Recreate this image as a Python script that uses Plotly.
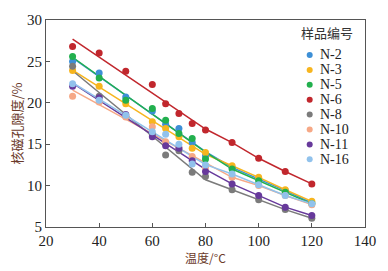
import numpy as np
import plotly.graph_objects as go

temps = [30, 40, 50, 60, 65, 70, 75, 80, 90, 100, 110, 120]
names = ["N-2", "N-3", "N-5", "N-6", "N-8", "N-10", "N-11", "N-16"]
n2 = [25.0, 23.6, 20.7, 19.0, 17.4, 16.9, 15.2, 13.6, 12.2, 10.8, 9.4, 7.9]
n3 = [23.9, 22.0, 19.9, 17.7, 16.9, 15.9, 14.5, 14.0, 12.4, 11.0, 9.5, 8.1]
n5 = [25.6, 23.0, 20.3, 19.3, 17.9, 16.3, 15.7, 13.2, 12.0, 10.6, 9.2, 7.8]
n6 = [26.8, 26.0, 23.8, 22.2, 19.9, 18.7, 17.5, 16.7, 15.2, 13.3, 11.7, 10.2]
n8 = [24.4, 20.8, 18.4, 16.2, 13.7, 14.2, 11.6, 11.1, 9.5, 8.3, 7.1, 6.05]
n10 = [20.8, 20.1, 18.3, 17.1, 15.3, 14.6, 13.5, 12.2, 11.0, 10.0, 8.8, 7.7]
n11 = [22.0, 20.6, 18.6, 15.9, 14.8, 14.5, 13.0, 11.7, 10.2, 8.8, 7.4, 6.4]
n16 = [22.3, 20.3, 18.5, 16.5, 16.2, 15.0, 12.6, 12.5, 11.4, 10.1, 8.8, 7.8]
series = [n2, n3, n5, n6, n8, n10, n11, n16]
colors = ["#3d8fd6", "#f7b51e", "#22b04e", "#c1272d", "#7b7b7b", "#f6a886", "#67399b", "#91c2ec"]
legend_title = "样品编号"

x_ticks = [20, 40, 60, 80, 100, 120, 140]
y_ticks = [5, 10, 15, 20, 25, 30]

W, H = 388, 271
ML, MR, MT, MB = 46, 19, 20, 44
PW, PH = W - ML - MR, H - MT - MB


def px_x(p):
    return (p - ML) / PW


def px_y(p):
    return (H - MB - p) / PH


fig = go.Figure()
t = np.array(temps, dtype=float)
for name, vals, col in zip(names, series, colors):
    v = np.array(vals, dtype=float)
    low = t <= 80
    k, b = np.polyfit(t[low], v[low], 1)
    hi = t > 80
    lx = [30.0, 80.0] + list(t[hi])
    ly = [k * 30 + b, k * 80 + b] + list(v[hi])
    fig.add_trace(go.Scatter(x=lx, y=ly, mode="lines", line=dict(color=col, width=1.5),
                             showlegend=False, hoverinfo="skip"))
for name, vals, col in zip(names, series, colors):
    fig.add_trace(go.Scatter(x=temps, y=vals, mode="markers", name=name, showlegend=False,
                             marker=dict(color=col, size=7)))

# legend drawn as annotations + circle shapes (positions in paper space)
annotations = [dict(xref="paper", yref="paper", x=px_x(302), y=px_y(33), xanchor="left", yanchor="middle",
                    text=legend_title, showarrow=False,
                    font=dict(family="Noto Sans CJK SC", size=13, color="#333333"))]
shapes = []
for i, (name, col) in enumerate(zip(names, colors)):
    yc = px_y(55 + i * 14.9)
    annotations.append(dict(xref="paper", yref="paper", x=px_x(321), y=yc, xanchor="left", yanchor="middle",
                            text=name, showarrow=False,
                            font=dict(family="Liberation Serif", size=14, color="#222222")))
    shapes.append(dict(type="circle", xref="paper", yref="paper", xsizemode="pixel", ysizemode="pixel",
                       xanchor=px_x(313), yanchor=yc, x0=-3, x1=3, y0=-3, y1=3,
                       fillcolor=col, line=dict(width=0)))

axis_common = dict(showline=True, linecolor="#555555", linewidth=1, mirror=True,
                   ticks="inside", ticklen=4, tickcolor="#555555", showgrid=False, zeroline=False,
                   ticklabeloverflow="allow",
                   tickfont=dict(family="Liberation Serif", size=15, color="#222222"))
fig.update_xaxes(range=[20, 140], tickvals=x_ticks,
                 title=dict(text="温度/°C", font=dict(family="Noto Sans CJK SC", size=12, color="#6b3a2a"), standoff=2),
                 **axis_common)
fig.update_yaxes(range=[5, 30], tickvals=y_ticks,
                 title=dict(text="核磁孔隙度/%", font=dict(family="Noto Sans CJK SC", size=13, color="#6b3a2a"), standoff=1),
                 **axis_common)
fig.update_layout(
    width=W, height=H,
    margin=dict(l=ML, r=MR, t=MT, b=MB),
    paper_bgcolor="white", plot_bgcolor="white",
    showlegend=False,
    annotations=annotations, shapes=shapes,
)
fig.write_html("out.html", config={"displayModeBar": False},
               post_script="document.body.style.margin='0';")
